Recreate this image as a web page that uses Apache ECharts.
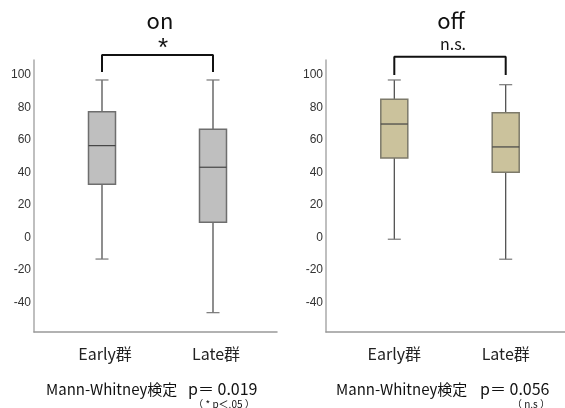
<!DOCTYPE html>
<html><head><meta charset="utf-8">
<script src="https://cdn.jsdelivr.net/npm/echarts@6/dist/echarts.min.js"></script>
<style>html,body{margin:0;padding:0;background:#fff}#c{width:565px;height:408px}</style>
</head><body><div id="c"></div>
<script>
const categories = ['Early群', 'Late群'];
// each row: [min, Q1, median, Q3, max]
const onValues = [[-13.4, 32.6, 56.4, 77.3, 96.8], [-46.4, 9.2, 43.1, 66.5, 96.8]];
const offValues = [[-1.2, 48.8, 69.7, 84.9, 96.8], [-13.5, 40.0, 55.6, 76.7, 93.9]];
const yTicks = [-40, -20, 0, 20, 40, 60, 80, 100];
const panelTitles = ['on', 'off'];
const sigMarks = ['*', 'n.s.'];
const bracketOn = [101.7, 112.2];
const bracketOff = [99.9, 111.1];
const testLabel = 'Mann-Whitney検定';
const pTexts = ['p＝ 0.019', 'p＝ 0.056'];
const pNotes = ['（ * p＜.05 ）', '（ n.s ）'];

const YMIN = -58.3, YMAX = 109.1;
const JP = '"Noto Sans CJK JP", "Noto Sans", sans-serif';

function renderBox(fill, stroke) {
  return function (params, api) {
    const i = api.value(0);
    const lo = api.coord([i, api.value(1)]);
    const q1 = api.coord([i, api.value(2)]);
    const md = api.coord([i, api.value(3)]);
    const q3 = api.coord([i, api.value(4)]);
    const hi = api.coord([i, api.value(5)]);
    const x = lo[0], bw = 27, cw = 13;
    const wl = { stroke: '#444', lineWidth: 1.2 };
    const cap = { stroke: '#777', lineWidth: 1.2 };
    return { type: 'group', children: [
      { type: 'line', shape: { x1: x, y1: hi[1], x2: x, y2: q3[1] }, style: wl },
      { type: 'line', shape: { x1: x, y1: q1[1], x2: x, y2: lo[1] }, style: wl },
      { type: 'line', shape: { x1: x - cw / 2, y1: hi[1], x2: x + cw / 2, y2: hi[1] }, style: cap },
      { type: 'line', shape: { x1: x - cw / 2, y1: lo[1], x2: x + cw / 2, y2: lo[1] }, style: cap },
      { type: 'rect', shape: { x: x - bw / 2, y: q3[1], width: bw, height: q1[1] - q3[1] },
        style: { fill: fill, stroke: stroke, lineWidth: 1.5 } },
      { type: 'line', shape: { x1: x - bw / 2, y1: md[1], x2: x + bw / 2, y2: md[1] }, style: { stroke: '#444', lineWidth: 1.2 } }
    ]};
  };
}

const frameX = (g) => ({ type: 'value', gridIndex: g, min: 0, max: 1,
  axisLine: { show: true, onZero: false, lineStyle: { color: '#999', width: 1.5 } },
  axisLabel: { show: false }, axisTick: { show: false }, splitLine: { show: false } });
const boxX = (g, pad) => ({ type: 'category', gridIndex: g, data: categories,
  axisLine: { show: false }, axisTick: { show: false },
  axisLabel: { fontSize: 16, color: '#222', margin: 14, fontFamily: JP, padding: pad } });
const frameY = (g) => ({ type: 'value', gridIndex: g, min: YMIN, max: YMAX,
  splitNumber: 8, minInterval: 20, maxInterval: 20,
  axisLine: { show: true, onZero: false, lineStyle: { color: '#aaa', width: 1.5 } },
  axisTick: { show: false }, splitLine: { show: false },
  axisLabel: { color: '#333', fontSize: 12, margin: 3, fontFamily: 'Liberation Sans, sans-serif',
    formatter: v => yTicks.includes(Math.round(v * 1000) / 1000) ? String(v) : '' } });
const boxY = (g) => ({ type: 'value', gridIndex: g, min: YMIN, max: YMAX, show: false });

function txt(x, y, text, size, align, font) {
  return { type: 'text', x: x, y: y,
    style: { text: text, fontSize: size, fill: '#111', fontFamily: font || JP, align: align, verticalAlign: 'middle' } };
}

const chart = echarts.init(document.getElementById('c'));
chart.setOption({
  animation: false,
  backgroundColor: '#fff',
  grid: [
    { left: 34, top: 60, width: 243, height: 272 },
    { left: 46.5, top: 60, width: 222, height: 272 },
    { left: 326, top: 60, width: 239, height: 272 },
    { left: 338.6, top: 60, width: 222.8, height: 272 }
  ],
  xAxis: [frameX(0), boxX(1, [0, 0, 0, 6]), frameX(2), boxX(3, 0)],
  yAxis: [frameY(0), boxY(1), frameY(2), boxY(3)],
  series: [
    { type: 'custom', xAxisIndex: 1, yAxisIndex: 1, renderItem: renderBox('#bfbfbf', '#6e6e6e'),
      data: onValues.map((v, i) => [i].concat(v)), clip: false },
    { type: 'custom', xAxisIndex: 3, yAxisIndex: 3, renderItem: renderBox('#cbc29c', '#7d7a6a'),
      data: offValues.map((v, i) => [i].concat(v)), clip: false },
    { type: 'line', xAxisIndex: 1, yAxisIndex: 1, clip: false, symbol: 'none', silent: true,
      lineStyle: { color: '#111', width: 2 },
      data: [[0, bracketOn[0]], [0, bracketOn[1]], [1, bracketOn[1]], [1, bracketOn[0]]] },
    { type: 'line', xAxisIndex: 3, yAxisIndex: 3, clip: false, symbol: 'none', silent: true,
      lineStyle: { color: '#111', width: 2 },
      data: [[0, bracketOff[0]], [0, bracketOff[1]], [1, bracketOff[1]], [1, bracketOff[0]]] }
  ],
  graphic: [
    txt(160, 21, panelTitles[0], 22, 'center'),
    txt(163, 49, sigMarks[0], 26, 'center', 'Liberation Sans, sans-serif'),
    txt(451, 21, panelTitles[1], 22, 'center'),
    txt(453, 44, sigMarks[1], 16, 'center'),
    txt(46, 389, testLabel, 15, 'left'),
    txt(188, 389, pTexts[0], 16, 'left'),
    txt(224, 404, pNotes[0], 10, 'center'),
    txt(336, 389, testLabel, 15, 'left'),
    txt(480, 389, pTexts[1], 16, 'left'),
    txt(531, 404, pNotes[1], 10, 'center')
  ]
});
</script>
</body></html>
